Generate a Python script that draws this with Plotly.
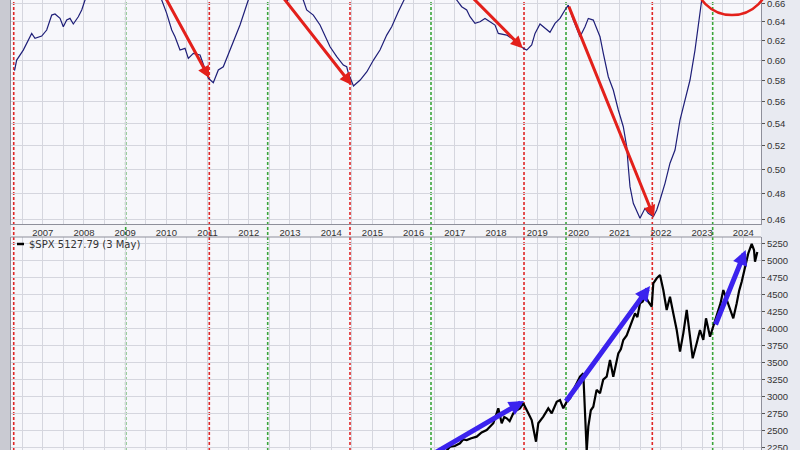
import math
import plotly.graph_objects as go

# ---------------- data ----------------
years = list(range(2007, 2025))
year_labels = [str(y) for y in years]

# ratio (top panel, log scale) - decimal years / values
ratio_t = [2006.315, 2006.368, 2006.528, 2006.611, 2006.732, 2006.812, 2006.975, 2007.096, 2007.218,
           2007.298, 2007.420, 2007.499, 2007.582, 2007.662, 2007.742, 2007.863, 2007.946, 2008.026,
           2008.400, 2008.900, 2009.500,
           2009.887, 2010.008, 2010.130, 2010.210, 2010.331, 2010.453, 2010.533, 2010.654, 2010.817,
           2010.938, 2011.018, 2011.139, 2011.261, 2011.382, 2011.464, 2011.624, 2011.787, 2011.908,
           2011.988, 2012.400, 2012.850, 2012.930, 2013.000, 2013.150,
           2013.323, 2013.405, 2013.566, 2013.729, 2013.850, 2013.972, 2014.134, 2014.294, 2014.376,
           2014.416, 2014.541, 2014.703, 2014.866, 2015.026, 2015.184, 2015.347, 2015.468, 2015.548,
           2015.628, 2015.767, 2016.200, 2016.600,
           2017.045, 2017.167, 2017.288, 2017.368, 2017.489, 2017.611, 2017.732, 2017.853, 2017.975,
           2018.055, 2018.259, 2018.380, 2018.540, 2018.661, 2018.744, 2018.865, 2018.946, 2019.067,
           2019.188, 2019.309, 2019.431, 2019.552, 2019.673, 2019.753, 2019.875, 2020.037, 2020.159,
           2020.239, 2020.360, 2020.523, 2020.603, 2020.724, 2020.845, 2020.967, 2021.088, 2021.171,
           2021.209, 2021.251, 2021.331, 2021.413, 2021.493, 2021.615, 2021.695, 2021.816, 2021.899,
           2021.979, 2022.100, 2022.221, 2022.343, 2022.464, 2022.585, 2022.707, 2022.828, 2022.949,
           2022.991, 2023.400, 2023.900, 2024.340]
ratio_v = [0.5899, 0.6003, 0.6104, 0.6173, 0.6277, 0.6225, 0.6249, 0.6312, 0.6472,
           0.6483, 0.6436, 0.6347, 0.6418, 0.6436, 0.6376, 0.6454, 0.6527, 0.6637,
           0.6820, 0.7000, 0.6900,
           0.6637, 0.6490, 0.6312, 0.6242, 0.6104, 0.6122, 0.6020, 0.6071, 0.6054,
           0.5921, 0.5823, 0.5780, 0.5904, 0.5936, 0.6020, 0.6190, 0.6365, 0.6527,
           0.6637, 0.6800, 0.6680, 0.6620, 0.6680, 0.6720,
           0.6637, 0.6527, 0.6472, 0.6365, 0.6242, 0.6138, 0.6037, 0.5953, 0.5936,
           0.5873, 0.5748, 0.5806, 0.5887, 0.6003, 0.6104, 0.6259, 0.6347, 0.6418,
           0.6508, 0.6637, 0.6900, 0.7000,
           0.6637, 0.6563, 0.6527, 0.6454, 0.6383, 0.6400, 0.6436, 0.6400, 0.6365,
           0.6277, 0.6259, 0.6225, 0.6173, 0.6122, 0.6104, 0.6156, 0.6277, 0.6376,
           0.6330, 0.6288, 0.6383, 0.6436, 0.6527, 0.6581, 0.6418, 0.6242, 0.6347,
           0.6436, 0.6418, 0.6242, 0.6071, 0.5838, 0.5710, 0.5522, 0.5370, 0.5193,
           0.5023, 0.4858, 0.4725, 0.4672, 0.4608, 0.4685, 0.4646, 0.4620, 0.4672,
           0.4751, 0.4885, 0.5052, 0.5165, 0.5430, 0.5615, 0.5806, 0.6104, 0.6490,
           0.6637, 0.6900, 0.7000, 0.6950]

# S&P 500 (bottom panel)
spx_t = [2016.300, 2016.640, 2016.760, 2016.883, 2017.000, 2017.125, 2017.200, 2017.288, 2017.400,
         2017.531, 2017.650, 2017.773, 2017.934, 2018.055,
         2018.137, 2018.200, 2018.259, 2018.330, 2018.419, 2018.500, 2018.581, 2018.661, 2018.783,
         2018.865, 2018.970, 2019.025,
         2019.147, 2019.268, 2019.351, 2019.472, 2019.552, 2019.632, 2019.715, 2019.800, 2019.875,
         2019.960, 2020.037,
         2020.117, 2020.200, 2020.239, 2020.300, 2020.360, 2020.440, 2020.523, 2020.600, 2020.685,
         2020.765, 2020.845, 2020.900, 2020.967,
         2021.030, 2021.088, 2021.170, 2021.251, 2021.310, 2021.372, 2021.430, 2021.493, 2021.560,
         2021.615, 2021.695, 2021.777, 2021.816, 2021.899,
         2021.979, 2022.059, 2022.141, 2022.221, 2022.301, 2022.384, 2022.464, 2022.544, 2022.627,
         2022.707, 2022.772, 2022.869, 2022.949, 2023.029, 2023.095, 2023.192, 2023.272, 2023.393,
         2023.450, 2023.515, 2023.636, 2023.757, 2023.840, 2023.900, 2023.961, 2024.041, 2024.121,
         2024.204, 2024.260, 2024.284, 2024.340]
spx_v = [2150, 2200, 2180, 2265, 2275, 2315, 2370, 2363, 2390,
         2412, 2475, 2510, 2609, 2829,
         2609, 2700, 2682, 2640, 2756, 2800, 2829, 2903, 2756,
         2657, 2338, 2609,
         2706, 2829, 2756, 2926, 2951, 2829, 2926, 2980, 3099,
         3210, 3294,
         3344, 2200, 2559, 2800, 2853, 3100, 3050, 3250, 3294,
         3540, 3294, 3470, 3638,
         3700, 3834, 3900, 4029, 4150, 4226, 4170, 4374, 4400,
         4496, 4397, 4324, 4668, 4741,
         4790, 4569, 4275, 4471, 4226, 3981, 3662, 3932, 4275,
         3882, 3565, 3785, 3981, 3834, 4153, 3882, 4029, 4275,
         4380, 4569, 4374, 4153, 4374, 4560, 4691, 4912, 5109,
         5246, 5157, 4985, 5128]

red_lines = [2006.296, 2011.042, 2014.456, 2018.679, 2021.792]
green_lines = [2009.013, 2012.459, 2016.422, 2019.698, 2023.257]

ratio_ticks = [0.46, 0.48, 0.50, 0.52, 0.54, 0.56, 0.58, 0.60, 0.62, 0.64, 0.66]
spx_ticks = list(range(2250, 5251, 250))

# arrows: (tail_t, tail_value, head_t, head_value)
red_arrows = [(2009.877, 0.6748, 2011.042, 0.5825),
              (2012.690, 0.6748, 2014.497, 0.5758),
              (2017.249, 0.6748, 2018.647, 0.6122),
              (2019.753, 0.6581, 2021.833, 0.4615)]
blue_arrows = [(2016.223, 2069, 2018.679, 2937),
               (2019.673, 2912, 2021.736, 4628),
               (2023.313, 4040, 2024.058, 5157)]

legend_text = "$SPX 5127.79 (3 May)"

# ---------------- figure ----------------
W, H = 800, 450
x_left, x_right = 11, 761
top_bottom_px, bot_top_px = 224, 237

def px_x(p):
    return p / W

def px_y(p):
    return 1 - p / H

x_range = [2006.230, 2024.4295]
grid_c = "#d5d6de"
frame_c = "#8e8f9a"
tick_font = dict(family="Liberation Sans, Arial, sans-serif", size=9.5, color="#333333")

fig = go.Figure()
fig.add_trace(go.Scatter(x=ratio_t, y=ratio_v, mode="lines", xaxis="x", yaxis="y",
                         line=dict(color="#1e1e78", width=1.2), hoverinfo="skip"))
fig.add_trace(go.Scatter(x=spx_t, y=spx_v, mode="lines", xaxis="x2", yaxis="y2",
                         line=dict(color="#000000", width=2.2), hoverinfo="skip"))

shapes = []
shapes.append(dict(type="rect", xref="paper", yref="paper", x0=0, x1=px_x(x_left), y0=0, y1=1,
                   fillcolor="#c9cad2", line=dict(width=0), layer="below"))
shapes.append(dict(type="rect", xref="paper", yref="paper", x0=px_x(x_left), x1=px_x(x_right),
                   y0=px_y(bot_top_px), y1=px_y(top_bottom_px),
                   fillcolor="#f4f4f7", line=dict(width=0), layer="below"))
for t in red_lines:
    shapes.append(dict(type="line", xref="x", yref="paper", x0=t, x1=t, y0=0, y1=1,
                       line=dict(color="#e02626", width=1.6, dash="3px,2px"), layer="below"))
for t in green_lines:
    shapes.append(dict(type="line", xref="x", yref="paper", x0=t, x1=t, y0=0, y1=1,
                       line=dict(color="#3aa53a", width=1.6, dash="3px,2px"), layer="below"))
shapes.append(dict(type="line", xref="paper", yref="paper", x0=px_x(x_left), x1=px_x(x_right),
                   y0=px_y(bot_top_px), y1=px_y(bot_top_px), line=dict(color=frame_c, width=1)))
shapes.append(dict(type="circle", xref="paper", yref="paper", x0=px_x(694.5), x1=px_x(769.5),
                   y0=px_y(15), y1=px_y(-60), line=dict(color="#e3201b", width=2.5), layer="above"))
shapes.append(dict(type="line", xref="paper", yref="paper", x0=px_x(17), x1=px_x(24),
                   y0=px_y(244), y1=px_y(244), line=dict(color="#000000", width=2.5)))

annotations = []
for (t0, v0, t1, v1) in red_arrows:
    annotations.append(dict(xref="x", yref="y", axref="x", ayref="y",
                            x=t1, y=math.log10(v1), ax=t0, ay=math.log10(v0),
                            text="", showarrow=True, arrowhead=2, arrowsize=0.8,
                            arrowwidth=3, arrowcolor="#e3201b", standoff=0))
for (t0, v0, t1, v1) in blue_arrows:
    annotations.append(dict(xref="x2", yref="y2", axref="x2", ayref="y2",
                            x=t1, y=v1, ax=t0, ay=v0,
                            text="", showarrow=True, arrowhead=2, arrowsize=0.6,
                            arrowwidth=5, arrowcolor="#3b22ee", standoff=0))
annotations.append(dict(xref="paper", yref="paper", x=px_x(26.5), y=px_y(244.5),
                        xanchor="left", yanchor="middle", showarrow=False, text=legend_text,
                        font=dict(family="DejaVu Sans, Verdana, sans-serif", size=10, color="#333333")))

fig.update_layout(
    width=W, height=H, margin=dict(l=0, r=0, t=0, b=0, autoexpand=False),
    paper_bgcolor="#e8eaf1", plot_bgcolor="#f7f7fb",
    showlegend=False,
    shapes=shapes, annotations=annotations,
    xaxis=dict(domain=[px_x(x_left), px_x(x_right)], range=x_range, anchor="y", automargin=False,
               tickmode="array", tickvals=years, ticktext=year_labels, ticks="",
               showgrid=True, gridcolor=grid_c, gridwidth=1, zeroline=False,
               minor=dict(dtick=0.5, tick0=2007, showgrid=True, gridcolor=grid_c, gridwidth=1),
               showline=True, mirror=True, linecolor=frame_c, linewidth=1,
               tickfont=tick_font, fixedrange=True),
    yaxis=dict(domain=[px_y(top_bottom_px), 1], type="log", automargin=False,
               range=[math.log10(0.4564), math.log10(0.6637)], anchor="x", side="right",
               tickmode="array", tickvals=ratio_ticks, ticktext=["%.2f" % v for v in ratio_ticks],
               ticks="outside", ticklen=3, tickcolor="#555555", ticklabeloverflow="allow",
               showgrid=True, gridcolor=grid_c, zeroline=False,
               showline=True, mirror=True, linecolor=frame_c, linewidth=1,
               tickfont=tick_font, fixedrange=True),
    xaxis2=dict(domain=[px_x(x_left), px_x(x_right)], range=x_range, anchor="y2", matches="x",
                automargin=False,
                tickmode="array", tickvals=years, showticklabels=False, ticks="",
                showgrid=True, gridcolor=grid_c, zeroline=False,
                minor=dict(dtick=0.5, tick0=2007, showgrid=True, gridcolor=grid_c),
                showline=False, fixedrange=True),
    yaxis2=dict(domain=[0, px_y(bot_top_px)], range=[2216, 5348.5], anchor="x2", side="right",
                automargin=False,
                tickmode="array", tickvals=spx_ticks, ticktext=[str(v) for v in spx_ticks],
                ticks="outside", ticklen=3, tickcolor="#555555", ticklabeloverflow="allow",
                showgrid=True, gridcolor=grid_c, zeroline=False,
                showline=True, mirror=True, linecolor=frame_c, linewidth=1,
                tickfont=tick_font, fixedrange=True),
)

fig.write_html("out.html", config={"displayModeBar": False},
               post_script="document.body.style.margin='0';document.body.style.overflow='hidden';")
